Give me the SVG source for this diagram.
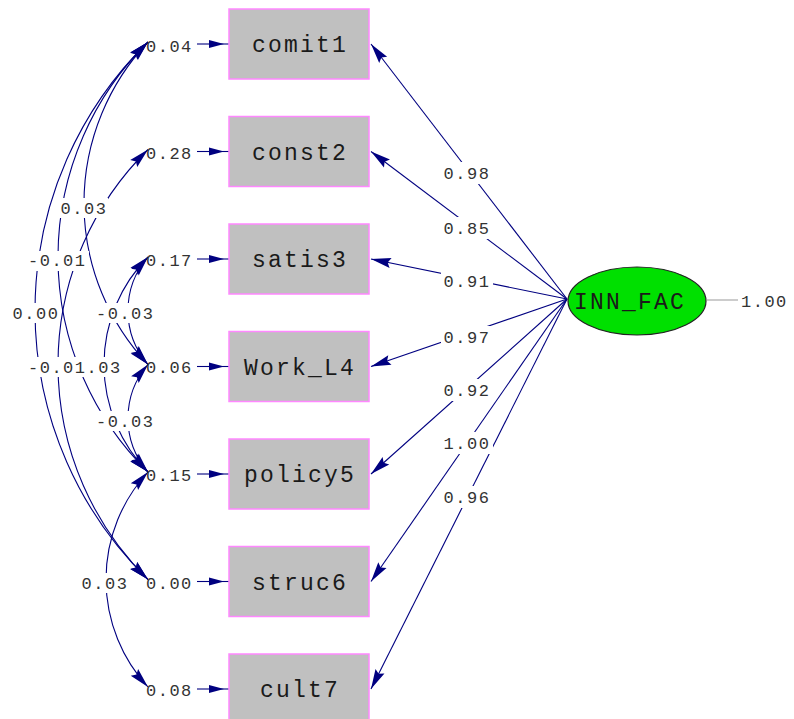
<svg xmlns="http://www.w3.org/2000/svg" width="794" height="719" viewBox="0 0 794 719">
<style>
.box{fill:#c0c0c0;stroke:#ff88ff;stroke-width:1.5}
.bl{font-family:"Liberation Mono",monospace;font-size:23px;letter-spacing:2.2px;fill:#1a1a1a;text-anchor:middle}
.num{font-family:"Liberation Mono",monospace;font-size:17px;letter-spacing:1.5px;fill:#333}
.mid{text-anchor:middle}
.ln{fill:none;stroke:#000080;stroke-width:1.1}
.bg{fill:#fff}
</style>
<defs>
<marker id="hd" markerUnits="userSpaceOnUse" markerWidth="21" markerHeight="10" refX="20" refY="5" orient="auto-start-reverse" overflow="visible">
<path d="M0,0 L20,5 L0,10 L3,5 z" fill="#000080"/>
</marker>
<marker id="eh" markerUnits="userSpaceOnUse" markerWidth="21" markerHeight="8" refX="20" refY="4" orient="auto" overflow="visible">
<path d="M0,0 L15,4 L0,8 z" fill="#000080"/>
</marker>
</defs>
<rect width="794" height="719" fill="#fff"/>

<g id="connectors">
<!-- loadings -->
<path class="ln" marker-end="url(#hd)" d="M567,299 L371,44"/>
<path class="ln" marker-end="url(#hd)" d="M567,299 L371,151.5"/>
<path class="ln" marker-end="url(#hd)" d="M567,299 L371,259"/>
<path class="ln" marker-end="url(#hd)" d="M567,299 L371,366.5"/>
<path class="ln" marker-end="url(#hd)" d="M567,299 L371,474"/>
<path class="ln" marker-end="url(#hd)" d="M567,299 L371,581.5"/>
<path class="ln" marker-end="url(#hd)" d="M567,299 L371,689"/>
<!-- factor variance -->
<path d="M707,300 H738" stroke="#aaaaaa" stroke-width="1.2" fill="none"/>
<!-- error arrows -->
<path class="ln" marker-end="url(#eh)" d="M197,44 H229"/>
<path class="ln" marker-end="url(#eh)" d="M197,151.5 H229"/>
<path class="ln" marker-end="url(#eh)" d="M197,259 H229"/>
<path class="ln" marker-end="url(#eh)" d="M197,366.5 H229"/>
<path class="ln" marker-end="url(#eh)" d="M197,474 H229"/>
<path class="ln" marker-end="url(#eh)" d="M197,581.5 H229"/>
<path class="ln" marker-end="url(#eh)" d="M197,689 H229"/>
<!-- error covariances -->
<path class="ln" marker-start="url(#hd)" marker-end="url(#hd)" d="M148,42 A235.1,235.1 0 0 0 148,364.5"/>
<path class="ln" marker-start="url(#hd)" marker-end="url(#hd)" d="M148,42 A301.8,301.8 0 0 0 148,472"/>
<path class="ln" marker-start="url(#hd)" marker-end="url(#hd)" d="M148,42 A376.1,376.1 0 0 0 148,579.5"/>
<path class="ln" marker-start="url(#hd)" marker-end="url(#hd)" d="M148,257 A82.2,82.2 0 0 0 148,364.5"/>
<path class="ln" marker-start="url(#hd)" marker-end="url(#hd)" d="M148,149.5 A301.8,301.8 0 0 0 148,579.5"/>
<path class="ln" marker-start="url(#hd)" marker-end="url(#hd)" d="M148,257 A153.3,153.3 0 0 0 148,472"/>
<path class="ln" marker-start="url(#hd)" marker-end="url(#hd)" d="M148,364.5 A82.2,82.2 0 0 0 148,472"/>
<path class="ln" marker-start="url(#hd)" marker-end="url(#hd)" d="M148,472 A158.6,158.6 0 0 0 148,687"/>
</g>

<g id="labels">
<!-- loading labels -->
<rect class="bg" x="441" y="162" width="52" height="22"/><text class="num mid" x="467" y="179">0.98</text>
<rect class="bg" x="441" y="217" width="52" height="22"/><text class="num mid" x="467" y="234">0.85</text>
<rect class="bg" x="441" y="270" width="52" height="22"/><text class="num mid" x="467" y="287">0.91</text>
<rect class="bg" x="441" y="326" width="52" height="22"/><text class="num mid" x="467" y="343">0.97</text>
<rect class="bg" x="441" y="379" width="52" height="22"/><text class="num mid" x="467" y="396">0.92</text>
<rect class="bg" x="441" y="432" width="52" height="22"/><text class="num mid" x="467" y="449">1.00</text>
<rect class="bg" x="441" y="486" width="52" height="22"/><text class="num mid" x="467" y="503">0.96</text>
<!-- covariance labels -->
<rect class="bg" x="58" y="198" width="50" height="20"/><text class="num mid" x="84" y="214">0.03</text>
<rect class="bg" x="27" y="251" width="62" height="20"/><text class="num" x="28" y="266">-0.01</text>
<rect class="bg" x="10" y="303" width="50" height="20"/><text class="num mid" x="36" y="319">0.00</text>
<rect class="bg" x="95" y="303" width="62" height="20"/><text class="num" x="96" y="319">-0.03</text>
<rect class="bg" x="27" y="357" width="103" height="20"/><text class="num" x="28" y="373">-0.01</text><text class="num" x="86.5" y="373">.03</text>
<rect class="bg" x="95" y="411" width="62" height="20"/><text class="num" x="96" y="427">-0.03</text>
<rect class="bg" x="79" y="573" width="50" height="20"/><text class="num mid" x="105" y="589">0.03</text>
<!-- error variances -->
<text class="num" x="146" y="52">0.04</text>
<text class="num" x="146" y="159">0.28</text>
<text class="num" x="146" y="266">0.17</text>
<text class="num" x="146" y="373">0.06</text>
<text class="num" x="146" y="481">0.15</text>
<text class="num" x="146" y="589">0.00</text>
<text class="num" x="146" y="696">0.08</text>
<text class="num" x="741" y="307">1.00</text>
</g>

<g id="comit1"><rect class="box" x="229" y="9" width="140" height="70"/><text class="bl" x="300" y="52">comit1</text></g>
<g id="const2"><rect class="box" x="229" y="116.5" width="140" height="70"/><text class="bl" x="300" y="159.5">const2</text></g>
<g id="satis3"><rect class="box" x="229" y="224" width="140" height="70"/><text class="bl" x="300" y="267">satis3</text></g>
<g id="Work_L4"><rect class="box" x="229" y="331.5" width="140" height="70"/><text class="bl" x="300" y="374.5">Work_L4</text></g>
<g id="policy5"><rect class="box" x="229" y="439" width="140" height="70"/><text class="bl" x="300" y="482">policy5</text></g>
<g id="struc6"><rect class="box" x="229" y="546.5" width="140" height="70"/><text class="bl" x="300" y="589.5">struc6</text></g>
<g id="cult7"><rect class="box" x="229" y="654" width="140" height="70"/><text class="bl" x="300" y="697">cult7</text></g>
<g id="INN_FAC"><ellipse cx="637" cy="301" rx="69" ry="34" fill="#00e000" stroke="#222" stroke-width="1.2"/><text class="bl" x="630" y="309">INN_FAC</text></g>
</svg>
